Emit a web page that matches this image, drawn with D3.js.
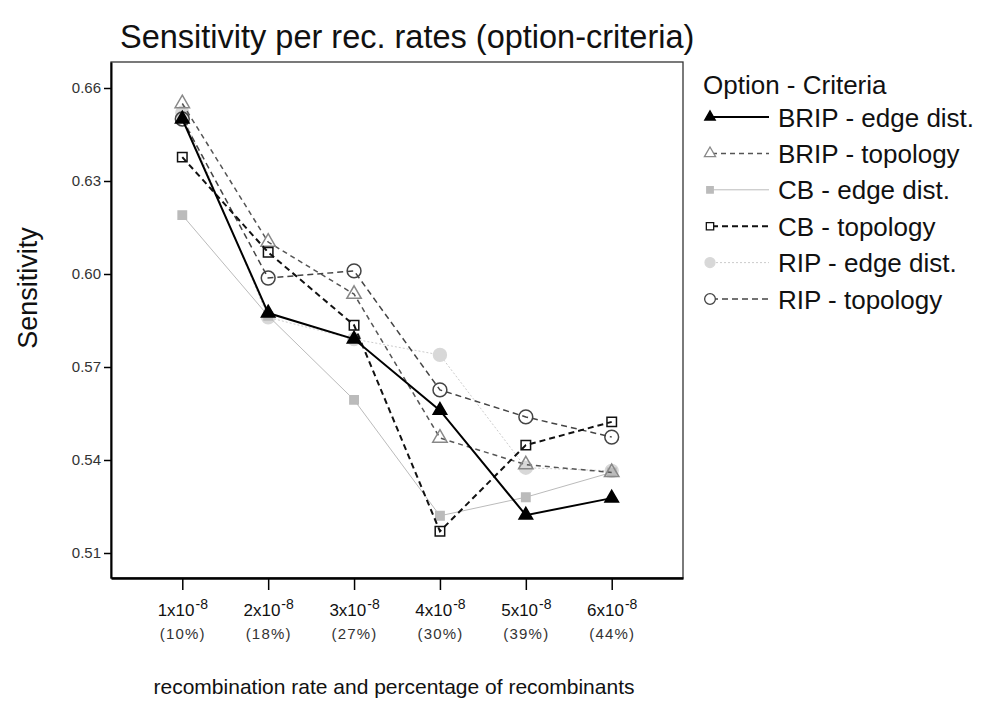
<!DOCTYPE html>
<html>
<head>
<meta charset="utf-8">
<script src="https://cdn.jsdelivr.net/npm/d3@7"></script>
<style>
  body { margin: 0; background: #fff; }
  svg { font-family: "Liberation Sans", Arial, sans-serif; }
</style>
</head>
<body>
<svg></svg>
<script>
let rates = ["1", "2", "3", "4", "5", "6"]
let percents = ["(10%)", "(18%)", "(27%)", "(30%)", "(39%)", "(44%)"]
let yTicks = [0.51, 0.54, 0.57, 0.60, 0.63, 0.66]

let seriesNames = ["BRIP - edge dist.", "BRIP - topology", "CB - edge dist.", "CB - topology", "RIP - edge dist.", "RIP - topology"]
let bripEdge = [0.650, 0.5874, 0.579, 0.556, 0.5222, 0.5277]
let bripTopo = [0.655, 0.6103, 0.5935, 0.5471, 0.5385, 0.5360]
let cbEdge = [0.619, 0.5865, 0.5594, 0.522, 0.528, 0.536]
let cbTopo = [0.6377, 0.607, 0.5835, 0.517, 0.5448, 0.5523]
let ripEdge = [0.652, 0.586, 0.579, 0.5739, 0.5375, 0.5365]
let ripTopo = [0.650, 0.5987, 0.601, 0.5626, 0.5539, 0.5474]

let width = 983
let height = 702
let plotL = 111, plotR = 683, plotT = 62, plotB = 578

// look of each series, same order as seriesNames
let styles = [
  {stroke: "#000", width: 2, dash: null, sym: d3.symbolTriangle, size: 80, fill: "#000", mstroke: "#000"},
  {stroke: "#555", width: 1.5, dash: "5,4", sym: d3.symbolTriangle, size: 90, fill: "none", mstroke: "#888"},
  {stroke: "#bbb", width: 1, dash: null, sym: d3.symbolSquare, size: 70, fill: "#bbb", mstroke: "#bbb"},
  {stroke: "#111", width: 2, dash: "6,4", sym: d3.symbolSquare, size: 90, fill: "none", mstroke: "#111"},
  {stroke: "#ccc", width: 1, dash: "2,2", sym: d3.symbolCircle, size: 130, fill: "#d8d8d8", mstroke: "#d8d8d8"},
  {stroke: "#444", width: 1.5, dash: "6,4", sym: d3.symbolCircle, size: 150, fill: "none", mstroke: "#444"}
]
let allSeries = [bripEdge, bripTopo, cbEdge, cbTopo, ripEdge, ripTopo]
let drawOrder = [4, 2, 1, 5, 3, 0]

let svg = d3.select("svg").attr("width", width).attr("height", height)

let x = d3.scalePoint().domain(rates).range([plotL, plotR]).padding(0.83)
let y = d3.scaleLinear().domain([0.51 - 25 / 3100, 0.66 + 26 / 3100]).range([plotB, plotT])

// title
svg.append("text")
   .attr("x", 120).attr("y", 48)
   .attr("font-size", 32.5)
   .attr("fill", "#111")
   .text("Sensitivity per rec. rates (option-criteria)")

// frame
svg.append("rect")
   .attr("x", plotL).attr("y", plotT)
   .attr("width", plotR - plotL).attr("height", plotB - plotT)
   .attr("fill", "none").attr("stroke", "#333").attr("stroke-width", 1.3)

// y axis
let yAxis = d3.axisLeft(y).tickValues(yTicks).tickFormat(d3.format(".2f")).tickSize(7).tickSizeOuter(0).tickPadding(3)
let gy = svg.append("g").attr("transform", "translate(" + plotL + ",0)").call(yAxis)
gy.select(".domain").attr("stroke-width", 2)
gy.selectAll(".tick line").attr("stroke-width", 1.5)
gy.selectAll(".tick text").attr("font-size", 15).attr("fill", "#333")
   .attr("font-family", "Liberation Sans, Arial, sans-serif")

// x axis
let xAxis = d3.axisBottom(x).tickSize(12).tickSizeOuter(0).tickFormat("")
let gx = svg.append("g").attr("transform", "translate(0," + plotB + ")").call(xAxis)
gx.select(".domain").attr("stroke-width", 2.5)
gx.selectAll(".tick line").attr("stroke-width", 1.5)

let xl = gx.selectAll(".tick").append("text")
   .attr("y", 38).attr("fill", "#111").attr("font-size", 17)
   .attr("font-family", "Liberation Sans, Arial, sans-serif")
   .attr("text-anchor", "middle")
xl.append("tspan").text((d) => d + "x10")
xl.append("tspan").attr("font-size", 14).attr("dx", 1).attr("dy", -7).text("-8")

gx.selectAll(".tick").append("text")
   .attr("y", 61).attr("fill", "#333").attr("font-size", 15)
   .attr("letter-spacing", 1.2)
   .attr("font-family", "Liberation Sans, Arial, sans-serif")
   .attr("text-anchor", "middle")
   .text((d, i) => percents[i])

// axis titles
svg.append("text")
   .attr("transform", "translate(37,288) rotate(-90)")
   .attr("text-anchor", "middle")
   .attr("font-size", 27).attr("fill", "#111")
   .text("Sensitivity")

svg.append("text")
   .attr("x", 394).attr("y", 694)
   .attr("text-anchor", "middle")
   .attr("font-size", 21).attr("fill", "#111")
   .text("recombination rate and percentage of recombinants")

// lines and markers
let line = d3.line().x((d, i) => x(rates[i])).y((d) => y(d))

drawOrder.forEach((s) => {
  let st = styles[s]
  svg.append("path")
     .datum(allSeries[s])
     .attr("d", line)
     .attr("fill", "none")
     .attr("stroke", st.stroke)
     .attr("stroke-width", st.width)
     .attr("stroke-dasharray", st.dash)
  svg.selectAll(".m" + s)
     .data(allSeries[s])
     .enter()
     .append("path")
     .attr("class", "m" + s)
     .attr("d", d3.symbol().type(st.sym).size(st.size))
     .attr("transform", (d, i) => "translate(" + x(rates[i]) + "," + y(d) + ")")
     .attr("fill", st.fill)
     .attr("stroke", st.mstroke)
     .attr("stroke-width", 1.5)
})

// legend
let lg = svg.append("g")
lg.append("text")
  .attr("x", 703).attr("y", 94)
  .attr("font-size", 26).attr("fill", "#111")
  .text("Option - Criteria")

seriesNames.forEach((name, i) => {
  let st = styles[i]
  let cy = 117 + i * 36.4
  lg.append("line")
    .attr("x1", 712).attr("x2", 769).attr("y1", cy).attr("y2", cy)
    .attr("stroke", st.stroke).attr("stroke-width", st.width)
    .attr("stroke-dasharray", st.dash)
  lg.append("path")
    .attr("d", d3.symbol().type(st.sym).size(st.size * 0.6))
    .attr("transform", "translate(710," + cy + ")")
    .attr("fill", st.fill === "none" ? "#fff" : st.fill)
    .attr("stroke", st.mstroke).attr("stroke-width", 1.3)
  lg.append("text")
    .attr("x", 778).attr("y", cy + 9.5)
    .attr("font-size", 26).attr("fill", "#111")
    .text(name)
})
</script>
</body>
</html>
